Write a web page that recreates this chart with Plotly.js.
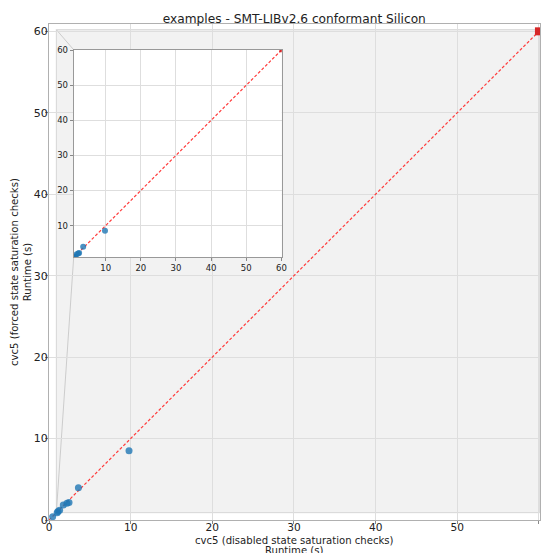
<!DOCTYPE html>
<html>
<head>
<meta charset="utf-8">
<script src="https://cdn.plot.ly/plotly-3.0.1.min.js"></script>
<style>html,body{margin:0;padding:0;background:#fff;}#chart{width:542px;height:553px;}</style>
</head>
<body>
<div id="chart"></div>
<script>
// Runtimes (s): cvc5 disabled state saturation checks (x) vs forced (y)
const solvedX = [0.45, 1.0, 1.1, 1.3, 1.75, 2.2, 2.45, 3.6, 9.8];
const solvedY = [0.4, 0.9, 1.05, 1.2, 1.85, 2.05, 2.15, 3.95, 8.5];
const timeoutX = [60];
const timeoutY = [60];
const diagX = [0, 60];
const diagY = [0, 60];
const tickValsMain = [0, 10, 20, 30, 40, 50, 60];
const tickValsInset = [10, 20, 30, 40, 50, 60];
const titleText = "examples - SMT-LIBv2.6 conformant Silicon";
const xTitle1 = "cvc5 (disabled state saturation checks)";
const xTitle2 = "Runtime (s)";
const yTitle = "cvc5 (forced state saturation checks)<br>Runtime (s)";

const mainX = [0, 60.13], mainY = [0, 60.9];
const insetX = [0.9, 60.1], insetY = [1.0, 60.1];
const insetDomX = [0.0503, 0.474], insetDomY = [0.530, 0.948];

const FONT = "DejaVu Sans, sans-serif";
const blue = "rgba(31,119,180,0.8)";
const red = "#d62728";

function traces(xa, ya, msize, rsize) {
  return [
    {x: diagX, y: diagY, xaxis: xa, yaxis: ya, mode: "lines", type: "scatter",
     line: {color: "#ff3b3b", width: 1.2, dash: "3px,2px"}, hoverinfo: "skip"},
    {x: solvedX, y: solvedY, xaxis: xa, yaxis: ya, mode: "markers", type: "scatter",
     marker: {color: blue, size: msize}},
    {x: timeoutX, y: timeoutY, xaxis: xa, yaxis: ya, mode: "markers", type: "scatter",
     marker: {color: red, size: rsize, symbol: "square"}}
  ];
}

const data = traces("x", "y", 7, 8).concat(traces("x2", "y2", 6, 4));

const axCommon = {
  showgrid: true, gridcolor: "#dedede", gridwidth: 1, zeroline: false,
  showline: true, linecolor: "#b0b0b0", linewidth: 1, mirror: true,
  ticks: "outside", ticklen: 3, tickcolor: "#888", tickfont: {family: FONT, size: 11, color: "#222"}
};

const layout = {
  width: 542, height: 553,
  margin: {l: 49, r: 2, t: 24, b: 33},
  paper_bgcolor: "#fff", plot_bgcolor: "#fff",
  showlegend: false,
  font: {family: FONT, color: "#222"},
  title: {text: titleText, font: {family: FONT, size: 12.2, color: "#222"}, x: 0.543, xanchor: "center", y: 0.973, yanchor: "top"},
  xaxis: Object.assign({}, axCommon, {range: mainX, tickvals: tickValsMain, domain: [0, 1], ticklabelstandoff: -6,
    tickfont: {family: FONT, size: 10.6, color: "#222"}}),
  yaxis: Object.assign({}, axCommon, {range: mainY, tickvals: tickValsMain, domain: [0, 1], ticklabelstandoff: -5}),
  xaxis2: Object.assign({}, axCommon, {range: insetX, tickvals: tickValsInset, domain: insetDomX, anchor: "y2",
    linecolor: "#999", ticklen: 3, tickfont: {family: FONT, size: 8.5, color: "#222"}}),
  yaxis2: Object.assign({}, axCommon, {range: insetY, tickvals: tickValsInset, domain: insetDomY, anchor: "x2",
    linecolor: "#999", ticklen: 3, tickfont: {family: FONT, size: 8.5, color: "#222"}}),
  annotations: [
    {text: xTitle1, xref: "paper", yref: "paper", x: 0.5, y: 0, xanchor: "center", yanchor: "middle", yshift: -20.5,
     showarrow: false, font: {family: FONT, size: 10.1, color: "#222"}},
    {text: xTitle2, xref: "paper", yref: "paper", x: 0.5, y: 0, xanchor: "center", yanchor: "middle", yshift: -30.5,
     showarrow: false, font: {family: FONT, size: 10.1, color: "#222"}},
    {text: yTitle, xref: "paper", yref: "paper", x: 0, y: 0.5, xanchor: "center", yanchor: "middle", xshift: -28,
     textangle: -90, showarrow: false, font: {family: FONT, size: 10.1, color: "#222"}}
  ],
  shapes: [
    {type: "rect", xref: "x", yref: "y", layer: "below", x0: insetX[0], y0: insetY[0] - 0.1, x1: insetX[1], y1: insetY[1] + 0.1,
     fillcolor: "#f2f2f2", line: {color: "#d6d6d6", width: 1}},
    {type: "line", xref: "x", yref: "y", layer: "below", x0: insetX[0], y0: insetY[1] + 0.1,
     x1: insetDomX[0] * mainX[1], y1: insetDomY[1] * mainY[1], line: {color: "#cccccc", width: 1}},
    {type: "line", xref: "x", yref: "y", layer: "below", x0: insetX[0], y0: insetY[0] - 0.1,
     x1: insetDomX[0] * mainX[1], y1: insetDomY[0] * mainY[1], line: {color: "#cccccc", width: 1}},
    {type: "rect", xref: "x2 domain", yref: "y2 domain", layer: "below", x0: 0, y0: 0, x1: 1, y1: 1,
     fillcolor: "#ffffff", line: {width: 0}}
  ]
};

Plotly.newPlot("chart", data, layout, {displayModeBar: false, staticPlot: true});
</script>
</body>
</html>
